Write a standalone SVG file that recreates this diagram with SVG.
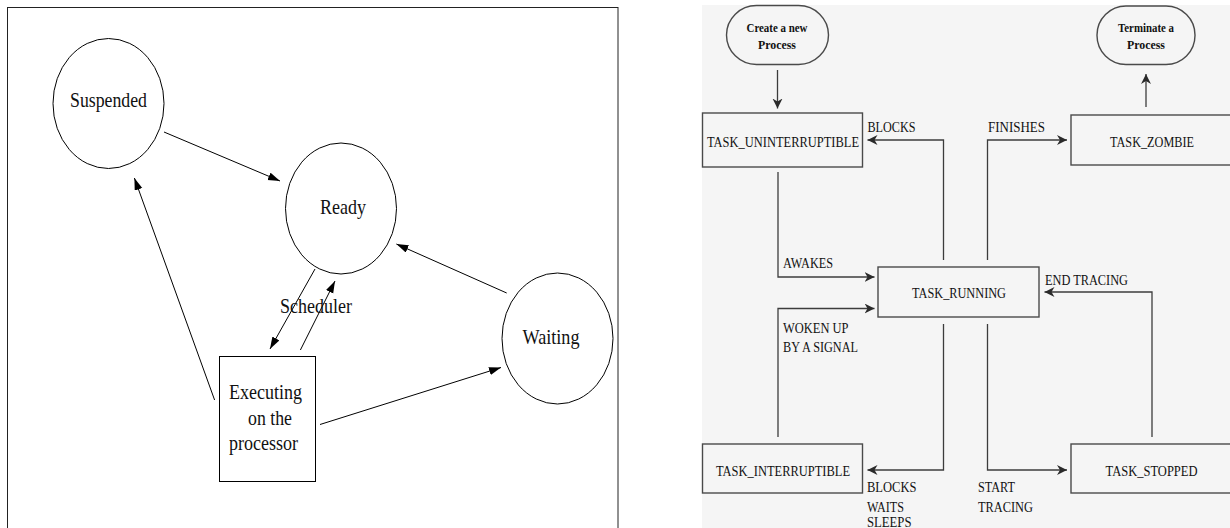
<svg xmlns="http://www.w3.org/2000/svg" width="1230" height="528" viewBox="0 0 1230 528">
  <style>
    .lbl { font-family: "Liberation Serif", "DejaVu Serif", "Times New Roman", serif; fill: #111; }
    .big { font-size: 22px; }
    .sm { font-size: 15px; }
    .cap { font-size: 12.5px; font-weight: bold; }
    .edgeL { fill: none; stroke: #000; stroke-width: 1; marker-end: url(#headL); }
    .edgeR { fill: none; stroke: #3c3c3c; stroke-width: 1.3; marker-end: url(#headR); }
    .nodeL { fill: #fff; stroke: #000; stroke-width: 1; }
    .nodeR { fill: none; stroke: #4a4a4a; stroke-width: 1.4; }
  </style>
  <defs>
    <marker id="headL" markerUnits="userSpaceOnUse" markerWidth="14" markerHeight="10" refX="12" refY="4" orient="auto">
      <path d="M0,0 L12,4 L0,8 z" fill="#000"/>
    </marker>
    <marker id="headR" markerUnits="userSpaceOnUse" markerWidth="12" markerHeight="12" refX="10" refY="5" orient="auto">
      <path d="M0,0 L10,5 L0,10 L3,5 z" fill="#2a2a2a"/>
    </marker>
  </defs>

  <rect width="1230" height="528" fill="#fff"/>

  <!-- left panel: generic process states -->
  <rect x="7.5" y="7.5" width="610.5" height="530" fill="none" stroke="#222" stroke-width="1"/>

  <g id="suspended">
    <ellipse class="nodeL" cx="108.5" cy="103.5" rx="55.5" ry="65"/>
    <text class="lbl big" x="108.5" y="107" text-anchor="middle" textLength="77" lengthAdjust="spacingAndGlyphs">Suspended</text>
  </g>
  <g id="ready">
    <ellipse class="nodeL" cx="341" cy="208.5" rx="55.5" ry="65.5"/>
    <text class="lbl big" x="343" y="214" text-anchor="middle" textLength="46" lengthAdjust="spacingAndGlyphs">Ready</text>
  </g>
  <g id="waiting">
    <ellipse class="nodeL" cx="557.5" cy="338.5" rx="55.5" ry="65.5"/>
    <text class="lbl big" x="551" y="344" text-anchor="middle" textLength="57" lengthAdjust="spacingAndGlyphs">Waiting</text>
  </g>
  <g id="executing">
    <rect class="nodeL" x="219.5" y="356.5" width="96" height="125"/>
    <text class="lbl big" x="265.5" y="399" text-anchor="middle" textLength="73" lengthAdjust="spacingAndGlyphs">Executing</text>
    <text class="lbl big" x="270" y="424.5" text-anchor="middle" textLength="44" lengthAdjust="spacingAndGlyphs">on the</text>
    <text class="lbl big" x="263.5" y="450" text-anchor="middle" textLength="69" lengthAdjust="spacingAndGlyphs">processor</text>
  </g>

  <g id="connectors-left">
    <line class="edgeL" x1="164" y1="132" x2="280" y2="181"/>
    <line class="edgeL" x1="214.6" y1="400" x2="134.4" y2="178"/>
    <line class="edgeL" x1="506.7" y1="293" x2="396.4" y2="244"/>
    <line class="edgeL" x1="320" y1="424.5" x2="501" y2="367.5"/>
    <line class="edgeL" x1="315" y1="269" x2="270" y2="349"/>
    <line class="edgeL" x1="300.4" y1="350" x2="335" y2="281"/>
    <text class="lbl big" x="316" y="313" text-anchor="middle" textLength="72" lengthAdjust="spacingAndGlyphs">Scheduler</text>
  </g>

  <!-- right panel: Linux task states -->
  <rect x="702" y="5" width="528" height="523" fill="#f5f5f5"/>

  <g id="create">
    <rect class="nodeR" x="726.5" y="5.5" width="102" height="59" rx="30" ry="29.5"/>
    <text class="lbl cap" x="777" y="31.7" text-anchor="middle" textLength="61" lengthAdjust="spacingAndGlyphs">Create a new</text>
    <text class="lbl cap" x="777" y="49" text-anchor="middle" textLength="38" lengthAdjust="spacingAndGlyphs">Process</text>
  </g>
  <g id="terminate">
    <rect class="nodeR" x="1097" y="6" width="98" height="58.5" rx="29" ry="29"/>
    <text class="lbl cap" x="1146" y="31.7" text-anchor="middle" textLength="56" lengthAdjust="spacingAndGlyphs">Terminate a</text>
    <text class="lbl cap" x="1146" y="49" text-anchor="middle" textLength="38" lengthAdjust="spacingAndGlyphs">Process</text>
  </g>
  <g id="task-uninterruptible">
    <rect class="nodeR" x="702.5" y="113" width="160" height="54"/>
    <text class="lbl sm" x="783" y="146.5" text-anchor="middle" textLength="152" lengthAdjust="spacingAndGlyphs">TASK_UNINTERRUPTIBLE</text>
  </g>
  <g id="task-zombie">
    <rect class="nodeR" x="1071" y="115" width="170" height="50"/>
    <text class="lbl sm" x="1152" y="146.5" text-anchor="middle" textLength="84" lengthAdjust="spacingAndGlyphs">TASK_ZOMBIE</text>
  </g>
  <g id="task-running">
    <rect class="nodeR" x="878" y="267" width="161" height="50"/>
    <text class="lbl sm" x="959" y="298.3" text-anchor="middle" textLength="94" lengthAdjust="spacingAndGlyphs">TASK_RUNNING</text>
  </g>
  <g id="task-interruptible">
    <rect class="nodeR" x="702.5" y="444" width="160" height="49"/>
    <text class="lbl sm" x="783" y="475.7" text-anchor="middle" textLength="134" lengthAdjust="spacingAndGlyphs">TASK_INTERRUPTIBLE</text>
  </g>
  <g id="task-stopped">
    <rect class="nodeR" x="1071" y="444" width="170" height="49"/>
    <text class="lbl sm" x="1151.5" y="475.7" text-anchor="middle" textLength="92" lengthAdjust="spacingAndGlyphs">TASK_STOPPED</text>
  </g>

  <g id="connectors-right">
    <line class="edgeR" x1="777.5" y1="70" x2="777.5" y2="108.5"/>
    <line class="edgeR" x1="1146" y1="107" x2="1146" y2="74"/>
    <polyline class="edgeR" points="943.5,260 943.5,140 867.5,140"/>
    <polyline class="edgeR" points="987.5,260 987.5,140 1067,140"/>
    <polyline class="edgeR" points="778,172 778,277 874.5,277"/>
    <polyline class="edgeR" points="778,437 778,308.5 874.5,308.5"/>
    <polyline class="edgeR" points="943.5,324 943.5,470 867.5,470"/>
    <polyline class="edgeR" points="987.5,324 987.5,470 1067,470"/>
    <polyline class="edgeR" points="1152,437 1152,292 1044.5,292"/>

    <text class="lbl sm" x="867.5" y="131.7" textLength="48" lengthAdjust="spacingAndGlyphs">BLOCKS</text>
    <text class="lbl sm" x="988" y="131.7" textLength="57" lengthAdjust="spacingAndGlyphs">FINISHES</text>
    <text class="lbl sm" x="783" y="268.3" textLength="50" lengthAdjust="spacingAndGlyphs">AWAKES</text>
    <text class="lbl sm" x="1045" y="285" textLength="83" lengthAdjust="spacingAndGlyphs">END TRACING</text>
    <text class="lbl sm" x="783" y="332.7" textLength="65.5" lengthAdjust="spacingAndGlyphs">WOKEN UP</text>
    <text class="lbl sm" x="783" y="351.7" textLength="75" lengthAdjust="spacingAndGlyphs">BY A SIGNAL</text>
    <text class="lbl sm" x="867" y="492" textLength="49.5" lengthAdjust="spacingAndGlyphs">BLOCKS</text>
    <text class="lbl sm" x="867" y="511.7" textLength="37" lengthAdjust="spacingAndGlyphs">WAITS</text>
    <text class="lbl sm" x="867" y="527" textLength="44.5" lengthAdjust="spacingAndGlyphs">SLEEPS</text>
    <text class="lbl sm" x="978" y="492" textLength="37" lengthAdjust="spacingAndGlyphs">START</text>
    <text class="lbl sm" x="978" y="511.7" textLength="55" lengthAdjust="spacingAndGlyphs">TRACING</text>
  </g>
</svg>
